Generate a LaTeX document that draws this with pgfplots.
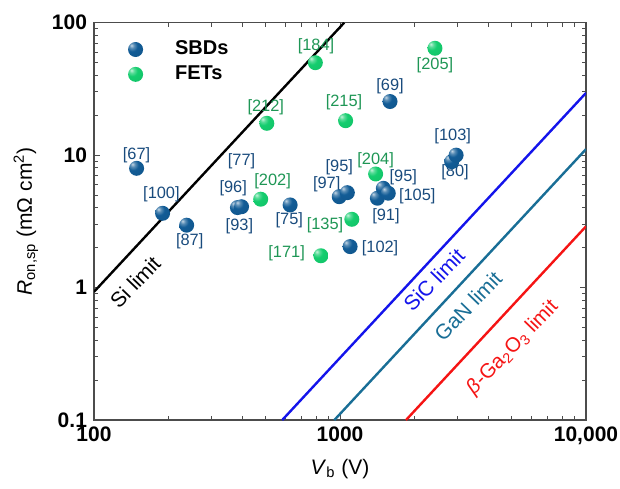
\documentclass[border=0pt]{standalone}
\usepackage{pgfplots}
\pgfplotsset{compat=1.18}
\usepackage{fontspec}
\setmainfont{Liberation Sans}
\definecolor{sbd}{RGB}{18,92,150}
\definecolor{sbdtext}{RGB}{25,75,125}
\definecolor{fet}{RGB}{20,205,110}
\definecolor{fettext}{RGB}{30,150,85}
\definecolor{sicblue}{RGB}{20,20,235}
\definecolor{ganteal}{RGB}{25,110,150}
\definecolor{gared}{RGB}{245,20,20}
\pgfdeclareradialshading{sbdshade}{\pgfpoint{-14bp}{14bp}}{color(0bp)=(white!75!sbd); color(8bp)=(white!30!sbd); color(18bp)=(sbd); color(55bp)=(sbd!90!black); color(100bp)=(sbd!75!black)}
\pgfdeclareradialshading{fetshade}{\pgfpoint{-14bp}{14bp}}{color(0bp)=(white!75!fet); color(8bp)=(white!30!fet); color(18bp)=(fet); color(55bp)=(fet!92!black); color(100bp)=(fet!80!black)}
\pgfdeclareplotmark{sbdball}{\pgfpathcircle{\pgfpointorigin}{\pgfplotmarksize}\pgfshadepath{sbdshade}{0}\pgfusepath{discard}}
\pgfdeclareplotmark{fetball}{\pgfpathcircle{\pgfpointorigin}{\pgfplotmarksize}\pgfshadepath{fetshade}{0}\pgfusepath{discard}}
\newcommand{\lblfont}{\fontsize{8.2}{9}\selectfont}
\newcommand{\bigfont}{\fontsize{10.5}{12}\selectfont}
\begin{document}
\begin{tikzpicture}
\begin{axis}[
  xmode=log, ymode=log,
  scale only axis, width=246pt, height=198.7pt,
  xmin=100, xmax=10000, ymin=0.1, ymax=100,
  xtick={100,1000,10000}, xticklabels={100,1000,{10,000}},
  ytick={0.1,1,10,100}, yticklabels={0.1,1,10,100},
  tick align=inside, major tick length=3pt, minor tick length=2pt,
  axis line style={black!70, line width=0.6pt}, every tick/.style={black!70, line width=0.5pt},
  tick label style={font=\bigfont\bfseries},
  /pgf/number format/assume math mode=true,
  xlabel={\textit{V}\textsubscript{b} (V)},
  ylabel={\textit{R}\textsubscript{on,sp} (mΩ cm\textsuperscript{2})},
  label style={font=\bigfont},
  legend style={draw=none, fill=none, at={(rel axis cs:0.036,0.975)}, anchor=north west, font=\fontsize{10}{12.4}\selectfont\bfseries, row sep=0pt},
  legend cell align=left,
  legend image code/.code={\draw[#1] plot coordinates {(0.3cm,0cm)}; \path (0cm,0cm) (0.6cm+9pt,0cm);},
]
% limit lines
\addplot[black, line width=1.2pt, forget plot] coordinates {(100,0.93) (1040,100)};
\addplot[sicblue, line width=1.2pt, forget plot] coordinates {(582,0.1) (10000,29.5)};
\addplot[ganteal, line width=1.2pt, forget plot] coordinates {(948,0.1) (10000,11.1)};
\addplot[gared, line width=1.2pt, forget plot] coordinates {(1854,0.1) (10000,2.9)};
% SBDs
\addplot[only marks, mark=sbdball, mark size=3.75pt] coordinates {
(149,7.96) (190,3.64) (238,2.96) (383,4.02) (398,4.08) (627,4.21)
(993,4.86) (1071,5.21) (1099,2.04) (1419,4.73) (1500,5.62) (1571,5.16)
(1597,25.4) (2844,8.93) (2965,10.0)};
\addlegendentry{SBDs}
% FETs
\addplot[only marks, mark=fetball, mark size=3.75pt] coordinates {
(476,4.65) (504,17.4) (794,49.9) (836,1.74) (1054,18.2) (1117,3.28) (1396,7.21) (2432,64.1)};
\addlegendentry{FETs}
% labels SBD
\begin{scope}[every node/.style={font=\lblfont, text=sbdtext, inner sep=0pt}]
\node at (axis cs:149,10.0) {[67]};
\node at (axis cs:398,8.93) {[77]};
\node at (axis cs:188,5.09) {[100]};
\node at (axis cs:368,5.62) {[96]};
\node at (axis cs:883,6.06) {[97]};
\node at (axis cs:993,8.10) {[95]};
\node at (axis cs:390,2.89) {[93]};
\node at (axis cs:622,3.20) {[75]};
\node at (axis cs:1455,1.98) {[102]};
\node at (axis cs:245,2.25) {[87]};
\node at (axis cs:1808,6.81) {[95]};
\node at (axis cs:2061,4.86) {[105]};
\node at (axis cs:1538,3.48) {[91]};
\node at (axis cs:1597,33.3) {[69]};
\node at (axis cs:2872,13.8) {[103]};
\node at (axis cs:2935,7.38) {[80]};
\end{scope}
\begin{scope}[every node/.style={font=\lblfont, text=fettext, inner sep=0pt}]
\node at (axis cs:799,66.7) {[184]};
\node at (axis cs:499,23.0) {[212]};
\node at (axis cs:532,6.31) {[202]};
\node at (axis cs:869,2.94) {[135]};
\node at (axis cs:607,1.82) {[171]};
\node at (axis cs:1396,9.09) {[204]};
\node at (axis cs:2432,47.9) {[205]};
\node at (axis cs:1038,24.9) {[215]};
\end{scope}
% line labels
\node[font=\bigfont, rotate=46, inner sep=0pt] at (axis cs:147,1.10) {Si limit};
\node[font=\bigfont, rotate=46, text=sicblue, inner sep=0pt] at (axis cs:2410,1.14) {SiC limit};
\node[font=\bigfont, rotate=46, text=ganteal, inner sep=0pt] at (axis cs:3313,0.728) {GaN limit};
\node[font=\fontsize{10.2}{12}\selectfont, rotate=46, text=gared, inner sep=0pt] at (axis cs:5047,0.351) {\textit{β}-Ga\textsubscript{2}O\textsubscript{3} limit};
\end{axis}
\pgfresetboundingbox
\path ([xshift=-47pt, yshift=-34pt]current axis.south west) rectangle ([xshift=17pt, yshift=11.35pt]current axis.north east);
\end{tikzpicture}
\end{document}
